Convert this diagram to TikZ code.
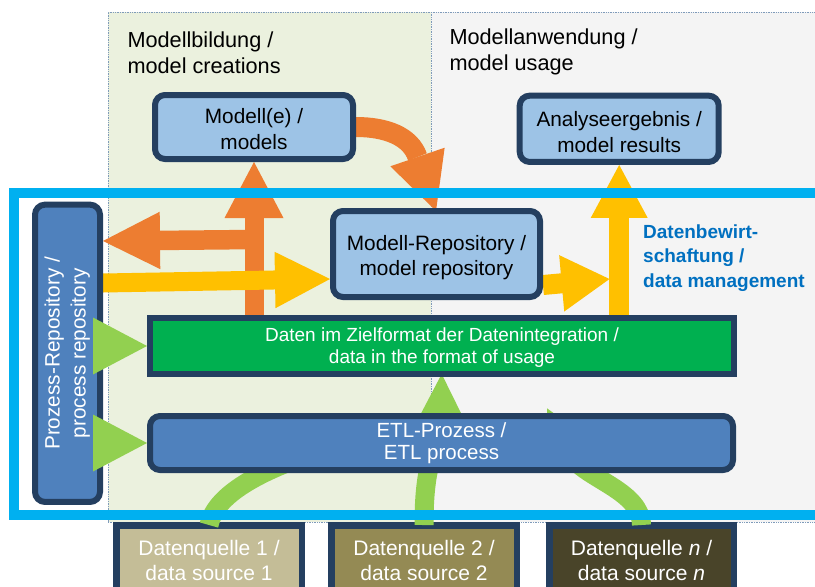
\documentclass[tikz,border=0pt]{standalone}
\usepackage{fontspec}
\setmainfont{Liberation Sans}
\usepackage{graphicx}
\usetikzlibrary{calc}

\definecolor{navy}{HTML}{243F60}
\definecolor{boxlight}{HTML}{9DC3E6}
\definecolor{boxmid}{HTML}{4F81BD}
\definecolor{datagreen}{HTML}{00B050}
\definecolor{panelgreen}{HTML}{EBF1DE}
\definecolor{panelgray}{HTML}{F4F4F4}
\definecolor{panelline}{HTML}{7F9BBA}
\definecolor{frameblue}{HTML}{00B0F0}
\definecolor{arrorange}{HTML}{ED7D31}
\definecolor{arryellow}{HTML}{FFC000}
\definecolor{arrgreen}{HTML}{92D050}
\definecolor{srcone}{HTML}{C4BD97}
\definecolor{srctwo}{HTML}{948A54}
\definecolor{srcn}{HTML}{494429}
\definecolor{mgmtblue}{HTML}{0070C0}

\pgfdeclarelayer{panel}
\pgfdeclarelayer{src}
\pgfdeclarelayer{shafts}
\pgfdeclarelayer{frame}
\pgfdeclarelayer{top}
\pgfsetlayers{panel,src,shafts,frame,main,top}

% triangular head of a block arrow: colour, base centre, tip, half width
\newcommand\arrowhead[4]{%
  \fill[#1] ($(#2)!#4!90:(#3)$) -- (#3) -- ($(#2)!#4!-90:(#3)$) -- cycle;}
% straight block arrow: colour, start, tip, shaft width, half head width, head length
\newcommand\fatarrow[6]{%
  \coordinate (fa-base) at ($(#3)!#6!(#2)$);
  \coordinate (fa-end) at ($(#3)!#6-1pt!(#2)$);
  \draw[#1, line width=#4] (#2) -- (fa-end);
  \arrowhead{#1}{fa-base}{#3}{#5}}

\tikzset{
  roundbox/.style={draw=navy, line width=6pt, rounded corners=10pt, inner sep=0pt, align=center},
  modelbox/.style={roundbox, fill=boxlight, text=black,
    font=\fontsize{20.8}{25.5}\selectfont},
  srcbox/.style={draw=navy, line width=6.5pt, inner sep=0pt, align=center, text=white,
    minimum width=185.5pt, minimum height=70.5pt, font=\fontsize{21}{24.5}\selectfont},
  titletext/.style={anchor=north west, inner sep=0pt, align=left, text=black,
    font=\fontsize{21.7}{26}\selectfont},
  greenshaft/.style={arrgreen, line width=19pt},
}

\begin{document}
\begin{tikzpicture}[x=1pt, y=-1pt]
\useasboundingbox (0,0) rectangle (815,587);

% background panels
\begin{pgfonlayer}{panel}
\fill[white] (0,0) rectangle (815,587);
\fill[panelgreen] (108,12) rectangle (431,522);
\fill[panelgray] (431,12) rectangle (830,522);
\draw[panelline, densely dotted, line width=0.7pt]
  (108,522) -- (108,12) -- (830,12) (431,12) -- (431,522) (108,522) -- (830,522);
\end{pgfonlayer}

% data sources
\begin{pgfonlayer}{src}
\node[srcbox, fill=srcone] (ds1) at (209,560.5) {Datenquelle 1 /\\data source 1};
\node[srcbox, fill=srctwo] (ds2) at (424,560.5) {Datenquelle 2 /\\data source 2};
\node[srcbox, fill=srcn, minimum width=184.5pt] (dsn) at (641.5,560.5)
  {Datenquelle \textit{n} /\\data source \textit{n}};
\end{pgfonlayer}

% boxes
\node[modelbox, minimum width=198pt, minimum height=64pt, text height=45pt] (mod) at (254,127)
  {Modell(e) /\\models};
\node[modelbox, minimum width=199pt, minimum height=66.3pt, text height=47pt] (res) at (619.2,128.8)
  {Analyseergebnis /\\model results};
\node[modelbox, minimum width=207pt, minimum height=86pt, text height=47.4pt] (repo) at (436.5,254)
  {Modell-Repository /\\model repository};
\node[roundbox, fill=boxmid, text=white, minimum width=65pt, minimum height=297.3pt,
  font=\fontsize{20.8}{26}\selectfont] (proc) at (67.5,353.3)
  {\rotatebox{90}{\begin{tabular}{@{}c@{}}Prozess-Repository /\\process repository\end{tabular}}};
\node[draw=navy, line width=6pt, fill=datagreen, text=white, inner sep=0pt, align=center,
  minimum width=584pt, minimum height=56pt, text height=39.2pt,
  font=\fontsize{19}{22}\selectfont] (dat) at (442,346)
  {Daten im Zielformat der Datenintegration /\\data in the format of usage};
\node[roundbox, fill=boxmid, text=white, minimum width=583pt, minimum height=54pt,
  font=\fontsize{20.5}{22}\selectfont] (etl) at (441.5,443) {ETL-Prozess /\\ETL process};

\begin{pgfonlayer}{shafts}
% green arrows from the data sources into the ETL process
\coordinate (g1s) at ($(ds1.north)+(0,3)$);
\coordinate (g2s) at ($(ds2.north)+(0,3)$);
\coordinate (gns) at ($(dsn.north)+(0,3)$);
\draw[greenshaft] (g1s) .. controls (215,495.5) and (257.7,473.4) .. (300,458);
\coordinate (g2b) at (441,430);
\draw[greenshaft] (g2s) .. controls (424,455) and (438,450) .. (g2b);
\arrowhead{arrgreen}{g2b}{441.7,374}{28.5pt}
\coordinate (gnb) at (572.4,458.2);
\draw[greenshaft] (gns) .. controls (641,492) and (590,480) .. (gnb);
\arrowhead{arrgreen}{gnb}{547,408.3}{28.5pt}

% orange arrows
\coordinate (ovs) at (mod.south |- dat.north);
\fatarrow{arrorange}{ovs}{mod.south}{19pt}{29.5pt}{56pt}
\coordinate (olj) at (mod.south |- 0,239.5);
\coordinate (olt) at (proc.east |- 0,241);
\fatarrow{arrorange}{olj}{olt}{19.5pt}{28.7pt}{57pt}
\coordinate (ocb) at (417.5,157);
\coordinate (oct) at ($(repo.north)+(-0.5,3)$);
\draw[arrorange, line width=20pt] (mod.east) .. controls (386,127) and (410.4,136.2) .. (ocb);
\arrowhead{arrorange}{ocb}{oct}{28.7pt}

% yellow arrows
\coordinate (yhs) at (proc.east |- 0,283);
\coordinate (yht) at (repo.west |- 0,279);
\fatarrow{arryellow}{yhs}{yht}{19pt}{28.2pt}{55pt}
\coordinate (yrs) at (repo.east |- 0,285);
\coordinate (yrt) at (609.5,279);
\fatarrow{arryellow}{yrs}{yrt}{20pt}{28.3pt}{48pt}
\coordinate (yvs) at (res.south |- dat.north);
\fatarrow{arryellow}{yvs}{res.south}{20pt}{28.5pt}{53pt}
\end{pgfonlayer}

% data management frame
\begin{pgfonlayer}{frame}
\draw[frameblue, line width=10pt] (14.3,193.3) rectangle (840,515.3);
\end{pgfonlayer}

\begin{pgfonlayer}{top}
% green arrows from the process repository
\coordinate (gpd) at (93,0 |- dat.west);
\arrowhead{arrgreen}{gpd}{dat.west}{28.5pt}
\coordinate (gpe) at (93,0 |- etl.west);
\arrowhead{arrgreen}{gpe}{etl.west}{28.5pt}

% panel and frame captions
\node[titletext] (tbuild) at (127.3,31.5) {Modellbildung /\\model creations};
\node[titletext] (tuse) at (449.3,28.3) {Modellanwendung /\\model usage};
\node[anchor=north west, inner sep=0pt, align=left, text=mgmtblue,
  font=\fontsize{19}{24.5}\selectfont\bfseries] (tmgmt) at (643,224.5)
  {Datenbewirt-\\schaftung /\\data management};
\end{pgfonlayer}
\end{tikzpicture}
\end{document}
